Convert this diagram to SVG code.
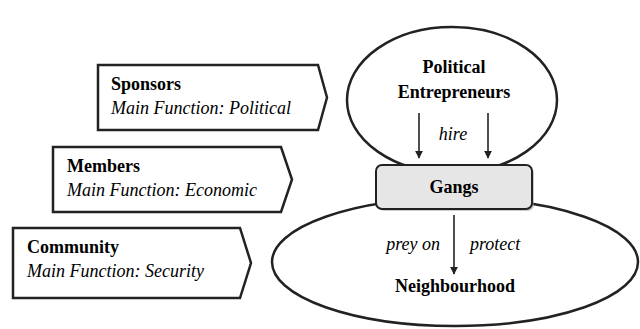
<svg xmlns="http://www.w3.org/2000/svg" width="640" height="329" viewBox="0 0 640 329">
<defs>
<marker id="ah" viewBox="0 0 10 10" refX="9" refY="5" markerWidth="5" markerHeight="5" orient="auto" markerUnits="strokeWidth">
<path d="M0,0 L10,5 L0,10 z" fill="#222"/>
</marker>
</defs>
<rect width="640" height="329" fill="#fff"/>
<g id="sponsors">
<path fill="#fff" stroke="#222" stroke-width="2.5" d="M98,65 L318,65 L327,97.5 L318,130 L98,130 Z"/>
<text x="111" y="90" font-family="Liberation Serif" font-size="18" font-weight="bold">Sponsors</text>
<text x="111" y="114" font-family="Liberation Serif" font-size="18" font-style="italic">Main Function: Political</text>
</g>
<g id="members">
<path fill="#fff" stroke="#222" stroke-width="2.5" d="M53,147 L281,147 L292,179.5 L281,212 L53,212 Z"/>
<text x="67" y="172" font-family="Liberation Serif" font-size="18" font-weight="bold">Members</text>
<text x="67" y="196" font-family="Liberation Serif" font-size="18" font-style="italic">Main Function: Economic</text>
</g>
<g id="community">
<path fill="#fff" stroke="#222" stroke-width="2.5" d="M13,228 L240,228 L251,263 L240,298 L13,298 Z"/>
<text x="27" y="253" font-family="Liberation Serif" font-size="18" font-weight="bold">Community</text>
<text x="27" y="277" font-family="Liberation Serif" font-size="18" font-style="italic">Main Function: Security</text>
</g>
<g id="neighbourhood">
<ellipse fill="#fff" stroke="#222" stroke-width="2.5" cx="455" cy="262" rx="183" ry="64"/>
<text x="455" y="292" text-anchor="middle" font-family="Liberation Serif" font-size="18" font-weight="bold">Neighbourhood</text>
</g>
<g id="political-entrepreneurs">
<ellipse fill="#fff" stroke="#222" stroke-width="2.5" cx="452" cy="100" rx="105" ry="73"/>
<text x="454" y="73" text-anchor="middle" font-family="Liberation Serif" font-size="18" font-weight="bold">Political</text>
<text x="454" y="98" text-anchor="middle" font-family="Liberation Serif" font-size="18" font-weight="bold">Entrepreneurs</text>
</g>
<g id="gangs">
<rect x="378" y="167" width="156" height="44" rx="6" fill="#999" opacity="0.5"/>
<rect x="376" y="165" width="156" height="44" rx="6" fill="#e6e6e6" stroke="#222" stroke-width="2"/>
<text x="454" y="193" text-anchor="middle" font-family="Liberation Serif" font-size="18" font-weight="bold">Gangs</text>
</g>
<g id="connectors">
<line stroke="#222" stroke-width="1.6" marker-end="url(#ah)" x1="419" y1="113" x2="419" y2="158"/>
<line stroke="#222" stroke-width="1.6" marker-end="url(#ah)" x1="488" y1="113" x2="488" y2="158"/>
<text x="453" y="140" text-anchor="middle" font-family="Liberation Serif" font-size="18" font-style="italic">hire</text>
<line stroke="#222" stroke-width="1.6" marker-end="url(#ah)" x1="454" y1="215" x2="454" y2="274"/>
<text x="440" y="250" text-anchor="end" font-family="Liberation Serif" font-size="18" font-style="italic">prey on</text>
<text x="470" y="250" font-family="Liberation Serif" font-size="18" font-style="italic">protect</text>
</g>
</svg>
